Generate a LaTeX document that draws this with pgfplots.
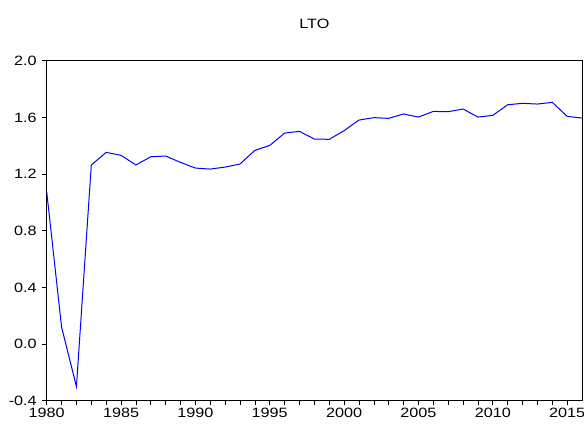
\documentclass[border=0pt]{standalone}
\usepackage{fontspec}
\setmainfont{Liberation Sans}[FakeStretch=1.2]
\usepackage{pgfplots}
\pgfplotsset{compat=1.18}

\pgfplotstableread{
year  lto
1980  1.075
1981  0.120
1982 -0.300
1983  1.264
1984  1.353
1985  1.332
1986  1.264
1987  1.322
1988  1.327
1989  1.282
1990  1.242
1991  1.235
1992  1.249
1993  1.271
1994  1.367
1995  1.402
1996  1.489
1997  1.501
1998  1.447
1999  1.445
2000  1.506
2001  1.581
2002  1.598
2003  1.593
2004  1.624
2005  1.602
2006  1.642
2007  1.640
2008  1.659
2009  1.602
2010  1.614
2011  1.689
2012  1.699
2013  1.694
2014  1.706
2015  1.607
2016  1.595
}\ltodata

\begin{document}
\begin{tikzpicture}
\begin{axis}[
  scale only axis,
  width=535.3pt, height=340pt,
  xmin=1980, xmax=2016,
  ymin=-0.4, ymax=2.0,
  xtick={1980,1985,...,2015},
  minor x tick num=4,
  ytick={-0.4,0,0.4,0.8,1.2,1.6,2.0},
  tick pos=left,
  tick align=outside,
  major tick length=4.5pt,
  minor tick length=4.5pt,
  every tick/.style={black, line width=0.6pt},
  axis line style={black, line width=0.8pt},
  /pgf/number format/assume math mode=true,
  x tick label style={/pgf/number format/1000 sep={}, font=\fontsize{13.5}{15}\selectfont, yshift=1pt},
  y tick label style={/pgf/number format/.cd, fixed, fixed zerofill, precision=1, /tikz/.cd, font=\fontsize{13.5}{15}\selectfont, xshift=-2pt},
  title={LTO},
  title style={at={(0.5,1)}, anchor=base, yshift=26pt, font=\fontsize{13.5}{15}\selectfont},
]
\addplot[color={rgb,255:red,0;green,0;blue,255}, line width=1pt, mark=none] table[x=year, y=lto] {\ltodata};
\end{axis}
\pgfresetboundingbox
\path (-46.7pt,-24.3pt) rectangle (537.3pt,400.7pt);
\end{tikzpicture}
\end{document}
